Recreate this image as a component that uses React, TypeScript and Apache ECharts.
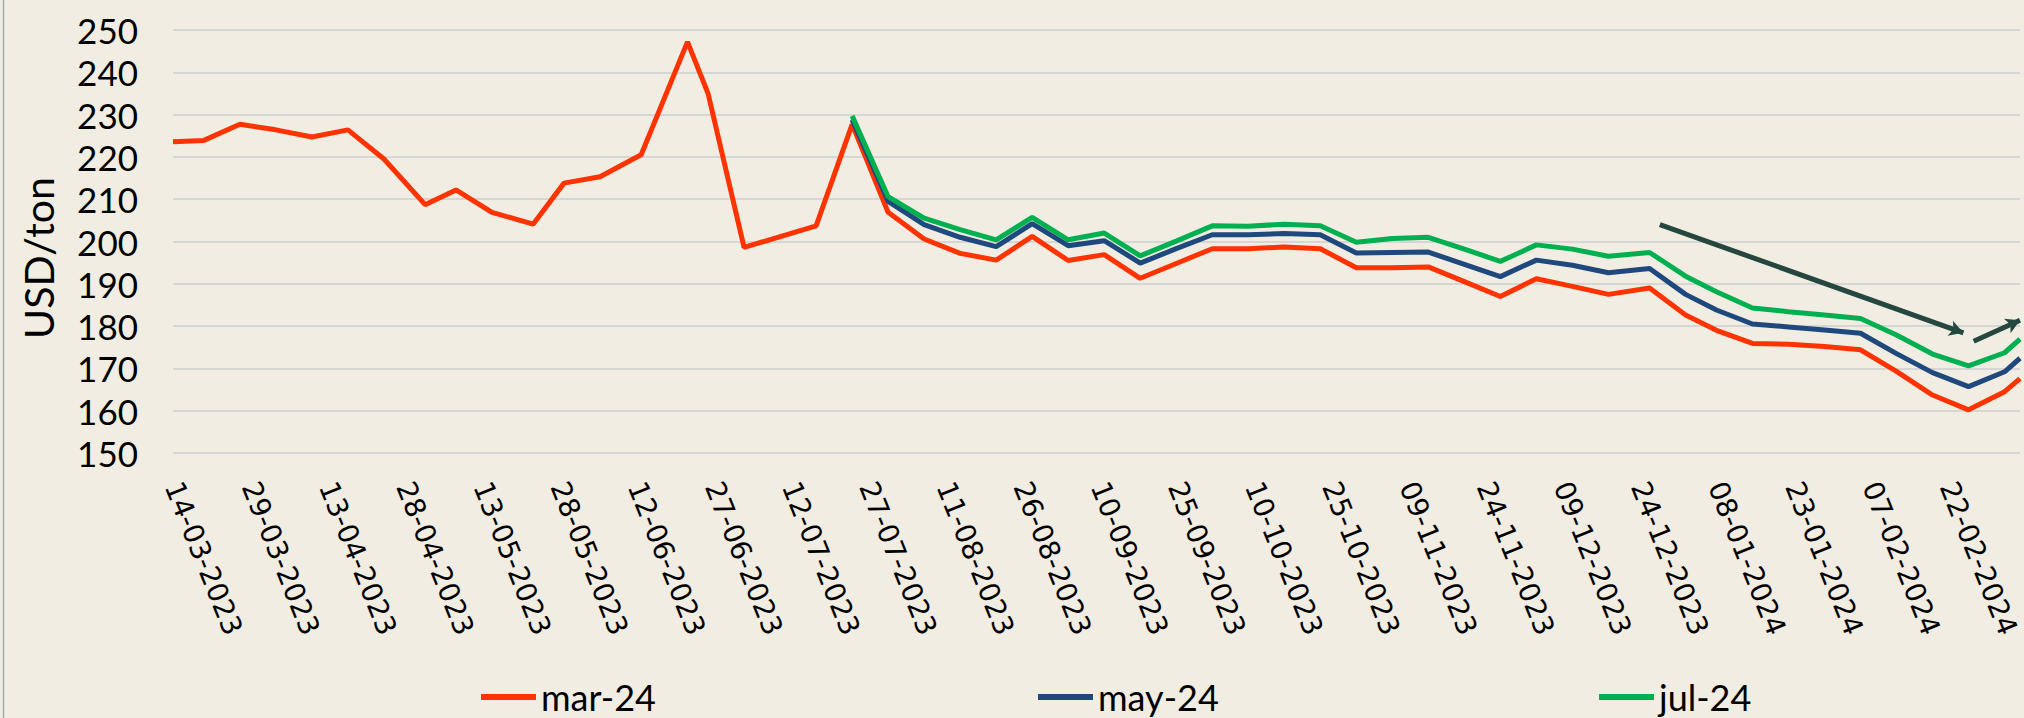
import React, { useEffect, useRef } from "react";
import * as echarts from "echarts";

// ---- data ----
const dates = [
  "2023-03-14", "2023-03-20", "2023-03-27", "2023-04-03", "2023-04-10", "2023-04-17", "2023-04-24",
  "2023-05-02", "2023-05-08", "2023-05-15", "2023-05-23", "2023-05-29", "2023-06-05", "2023-06-13",
  "2023-06-22", "2023-06-26", "2023-07-03", "2023-07-17", "2023-07-24", "2023-07-31", "2023-08-07",
  "2023-08-14", "2023-08-21", "2023-08-28", "2023-09-04", "2023-09-11", "2023-09-18", "2023-09-25",
  "2023-10-02", "2023-10-09", "2023-10-16", "2023-10-23", "2023-10-30", "2023-11-06", "2023-11-13",
  "2023-11-20", "2023-11-27", "2023-12-04", "2023-12-11", "2023-12-18", "2023-12-26", "2024-01-02",
  "2024-01-08", "2024-01-15", "2024-01-22", "2024-01-29", "2024-02-05", "2024-02-12", "2024-02-19",
  "2024-02-26", "2024-03-04", "2024-03-07",
];

const mar24 = [
  223.6, 223.9, 227.7, 226.4, 224.7, 226.4, 219.5, 208.7, 212.2, 206.9,
  204.1, 213.8, 215.3, 220.5, 247.2, 235.0, 198.6, 203.7, 227.7, 206.9,
  200.6, 197.2, 195.6, 201.2, 195.5, 196.9, 191.3, 194.8, 198.3, 198.3,
  198.7, 198.3, 193.8, 193.8, 194.0, 190.5, 187.0, 191.2, 189.4, 187.5,
  189.0, 182.6, 179.0, 175.9, 175.7, 175.2, 174.4, 169.3, 163.7, 160.2,
  164.5, 167.6,
];

// may-24 and jul-24 start on 24-07-2023
const laterStart = "2023-07-24";

const may24 = [
  228.8, 209.5, 204.0, 201.0, 198.8, 204.2, 199.0, 200.2, 194.9, 198.3,
  201.6, 201.6, 201.9, 201.6, 197.3, 197.4, 197.5, 194.6, 191.7, 195.6,
  194.4, 192.6, 193.6, 187.5, 183.8, 180.5, 179.8, 179.1, 178.3, 173.5,
  169.0, 165.7, 169.2, 172.4,
];

const jul24 = [
  229.7, 210.6, 205.5, 202.8, 200.4, 205.7, 200.4, 202.0, 196.6, 200.1,
  203.7, 203.6, 204.1, 203.7, 199.8, 200.7, 201.0, 198.2, 195.3, 199.2,
  198.2, 196.5, 197.4, 191.8, 188.1, 184.3, 183.4, 182.6, 181.8, 177.9,
  173.4, 170.6, 173.7, 176.9,
];

const seriesNames = ["mar-24", "may-24", "jul-24"];
const seriesColors = ["#FF3300", "#1F497D", "#00B050"];

const yMin = 150;
const yMax = 250;
const yStep = 10;
const xStepDays = 15;

// trend arrows drawn on the chart: [start, end] as [date, value]
const trendArrows: [string, number][][] = [
  [["2023-12-28", 204.0], ["2024-02-25", 178.4]],
  [["2024-02-27", 176.4], ["2024-03-07", 181.4]],
];

// ---- helpers ----
const DAY = 86400000;
const BASE = Date.parse(dates[0] + "T00:00:00Z");
const toDay = (s: string) => Math.round((Date.parse(s + "T00:00:00Z") - BASE) / DAY);
const pad = (n: number) => (n < 10 ? "0" + n : "" + n);
const fmtDay = (v: number) => {
  const d = new Date(BASE + Math.round(v) * DAY);
  return pad(d.getUTCDate()) + "-" + pad(d.getUTCMonth() + 1) + "-" + d.getUTCFullYear();
};

export default function App() {
  const ref = useRef<HTMLDivElement>(null);

  useEffect(() => {
    if (!ref.current) return;
    const chart = echarts.init(ref.current, undefined, { renderer: "svg" });

    const laterDates = dates.filter((d) => d >= laterStart);
    const marData = dates.map((d, i) => [toDay(d), mar24[i]]);
    const mayData = laterDates.map((d, i) => [toDay(d), may24[i]]);
    const julData = laterDates.map((d, i) => [toDay(d), jul24[i]]);
    const xMax = toDay(dates[dates.length - 1]);

    const legendLefts = [481, 1038, 1599];

    chart.setOption({
      animation: false,
      backgroundColor: "#F1EDE2",
      grid: { left: 173, right: 4, top: 30, bottom: 265, containLabel: false },
      xAxis: {
        type: "value",
        min: 0,
        max: xMax,
        interval: xStepDays,
        axisLine: { show: false },
        axisTick: { show: false },
        splitLine: { show: false },
        axisLabel: {
          rotate: -68,
          margin: 30,
          showMaxLabel: false,
          formatter: (v: number) => fmtDay(v),
          color: "#000",
          fontFamily: "DejaVu Sans",
          fontSize: 28,
        },
      },
      yAxis: {
        type: "value",
        min: yMin,
        max: yMax,
        interval: yStep,
        axisLine: { show: false },
        axisTick: { show: false },
        splitLine: { show: true, lineStyle: { color: "#D6D6D4", width: 2 } },
        axisLabel: {
          margin: 35,
          color: "#000",
          fontFamily: "Lato",
          fontSize: 35,
        },
      },
      legend: seriesNames.map((n, i) => ({
        data: [n],
        left: legendLefts[i],
        top: 678,
        padding: 0,
        itemWidth: 55,
        itemHeight: 6,
        icon: "rect",
        textStyle: { color: "#000", fontFamily: "Lato", fontSize: 36, lineHeight: 38 },
      })),
      graphic: [
        {
          type: "line",
          shape: { x1: 3.5, y1: 0, x2: 3.5, y2: 718 },
          style: { stroke: "#A9A9A9", lineWidth: 1.5 },
          silent: true,
        },
        {
          type: "text",
          x: 38,
          y: 258,
          rotation: Math.PI / 2,
          style: {
            text: "USD/ton",
            fill: "#000",
            fontFamily: "Lato",
            fontSize: 41,
            align: "center",
            verticalAlign: "middle",
            textAlign: "center",
            textVerticalAlign: "middle",
          },
          silent: true,
        },
      ],
      series: [
        {
          name: seriesNames[0],
          type: "line",
          data: marData,
          color: seriesColors[0],
          showSymbol: false,
          symbol: "none",
          lineStyle: { width: 5, color: seriesColors[0] },
        },
        {
          name: seriesNames[1],
          type: "line",
          data: mayData,
          color: seriesColors[1],
          showSymbol: false,
          symbol: "none",
          lineStyle: { width: 5, color: seriesColors[1] },
        },
        {
          name: seriesNames[2],
          type: "line",
          data: julData,
          color: seriesColors[2],
          showSymbol: false,
          symbol: "none",
          lineStyle: { width: 5, color: seriesColors[2] },
          markLine: {
            silent: true,
            symbol: ["none", "arrow"],
            symbolSize: [12, 14],
            label: { show: false },
            lineStyle: { color: "#25473F", width: 5, type: "solid" },
            data: trendArrows.map((a) => [
              { coord: [toDay(a[0][0]), a[0][1]] },
              { coord: [toDay(a[1][0]), a[1][1]] },
            ]),
          },
        },
      ],
    });

    return () => chart.dispose();
  }, []);

  return (
    <div
      ref={ref}
      style={{ position: "fixed", left: 0, top: 0, width: 2024, height: 718 }}
    />
  );
}
